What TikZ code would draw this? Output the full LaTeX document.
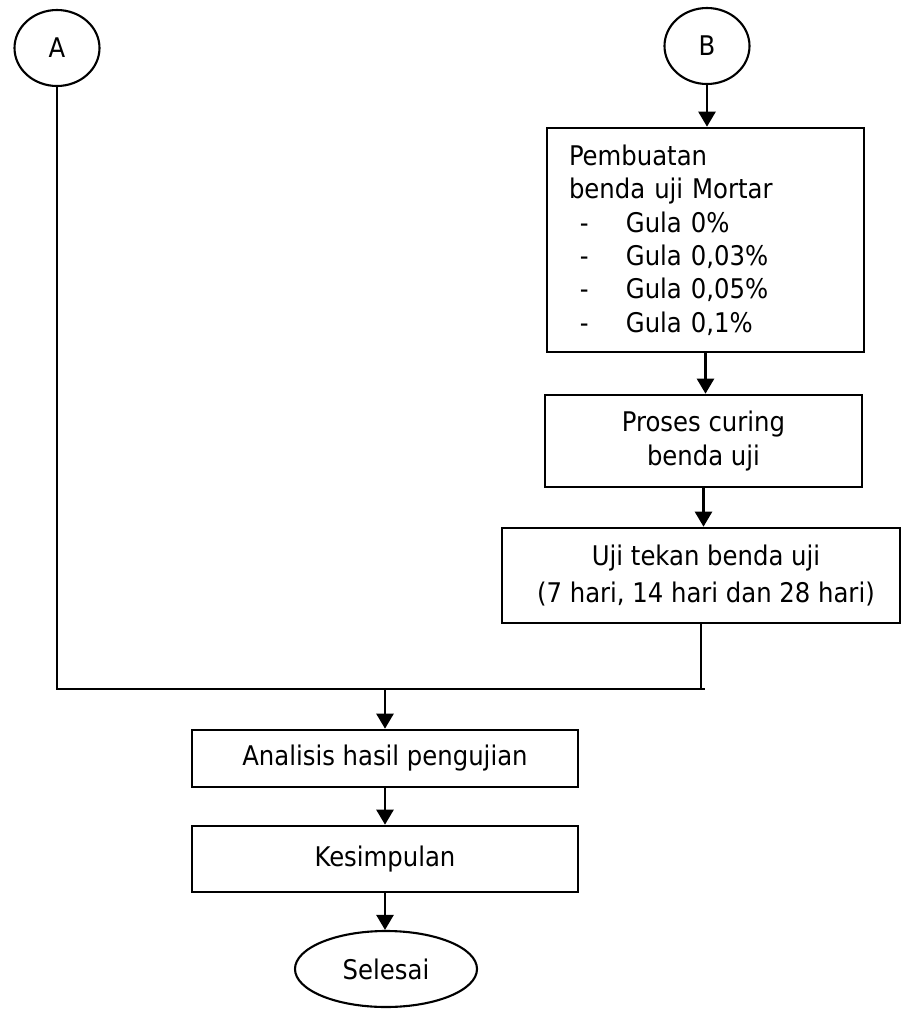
\documentclass[tikz,border=0pt]{standalone}
\usepackage{fontspec}
\setmainfont{DejaVu Sans Condensed}
\usetikzlibrary{shapes.geometric, arrows.meta, positioning}

\newcommand{\gulaitem}[1]{\makebox[16.2pt][l]{\hspace*{3.1pt}-}Gula #1}

\begin{document}
\begin{tikzpicture}[x=0.1mm, y=-0.1mm,
        every node/.style={font=\fontsize{7.7}{9.5}\selectfont},
        box/.style={draw, rectangle, line width=0.75pt, inner sep=0pt, align=center},
        term/.style={draw, ellipse, line width=0.6pt, inner sep=0pt},
        flow/.style={line width=0.7pt, -{Triangle[width=1.7mm, length=1.5mm]}},
        link/.style={line width=0.7pt}]
            \useasboundingbox (0,0) rectangle (902,1009);
            \node[term, minimum width=8.5mm, minimum height=7.6mm] (A) at (57,48) {A};
            \node[term, minimum width=8.5mm, minimum height=7.6mm] (B) at (707,46) {B};
            \node[box, minimum width=31.7mm, minimum height=22.4mm, text width=27.3mm, inner xsep=2.2mm, align=left] (pembuatan) at (705.5,240)
                {Pembuatan\\benda uji Mortar\\\gulaitem{0\%}\\\gulaitem{0,03\%}\\\gulaitem{0,05\%}\\\gulaitem{0,1\%}};
            \node[box, minimum width=31.7mm, minimum height=9.2mm] (curing) at (703.5,441) {Proses curing\\benda uji};
            \node[box, minimum width=39.8mm, minimum height=9.5mm, font=\fontsize{7.7}{10.8}\selectfont] (ujitekan) at (701,575.5)
                {\hspace*{1mm}Uji tekan benda uji\\\hspace*{1mm}(7 hari, 14 hari dan 28 hari)};
            \node[box, minimum width=38.6mm, minimum height=5.7mm] (analisis) at (385,758.5) {Analisis hasil pengujian};
            \node[box, minimum width=38.6mm, minimum height=6.6mm] (kesimpulan) at (385,859) {Kesimpulan};
            \node[term, minimum width=18.2mm, minimum height=7.6mm] (selesai) at (386,969) {Selesai};
            \coordinate (joinL) at (57,689);
            \coordinate (joinR) at (705,689);
            \draw[flow] (B.south) -- (B.south |- pembuatan.north);
            \draw[flow] (pembuatan.south) -- (pembuatan.south |- curing.north);
            \draw[flow] (curing.south) -- (curing.south |- ujitekan.north);
            \draw[link] (A.south) -- (joinL) -- (joinR);
            \draw[link] (ujitekan.south) -- (ujitekan.south |- joinR);
            \draw[flow] (analisis.north |- joinL) -- (analisis.north);
            \draw[flow] (analisis.south) -- (kesimpulan.north);
            \draw[flow] (kesimpulan.south) -- (kesimpulan.south |- selesai.north);
        \end{tikzpicture}
\end{document}
